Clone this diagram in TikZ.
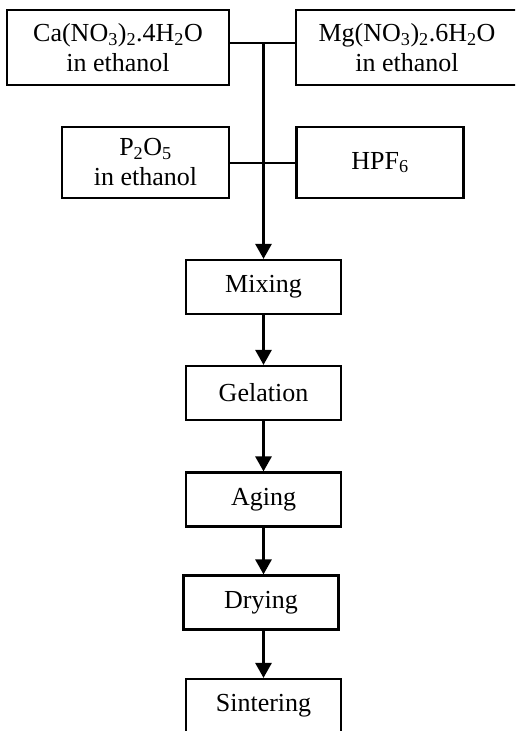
\documentclass[tikz,border=0pt]{standalone}
\usepackage{fontspec}
\setmainfont{Liberation Serif}
\usepackage{tikz}
\usetikzlibrary{arrows.meta, positioning}

\begin{document}
\begin{tikzpicture}[
    x=1pt, y=-1pt,
    line width=2.6pt,
    every node/.style={font=\fontsize{26}{30}\selectfont},
    source/.style={rectangle, draw, line width=2.2pt, align=center, inner sep=0pt, minimum height=75pt},
    reagent/.style={rectangle, draw, line width=2.2pt, align=center, inner sep=0pt, minimum width=167pt, minimum height=71pt},
    stepbox/.style={rectangle, draw, line width=2.2pt, inner sep=0pt, minimum width=155pt, minimum height=54pt},
    flow/.style={-{Triangle[length=15pt, width=16pt]}, line width=2.8pt}
]
    \useasboundingbox (0,0) rectangle (515,731);
    \clip (0,0) rectangle (515,731);

    % Precursor solutions (top row)
    \node[source, minimum width=222pt] (ca) at (118,47.5) {Ca(NO\textsubscript{3})\textsubscript{2}.4H\textsubscript{2}O\\in ethanol};
    \node[source, minimum width=222pt] (mg) at (407,47.5) {Mg(NO\textsubscript{3})\textsubscript{2}.6H\textsubscript{2}O\\in ethanol};

    % Phosphorus and fluorine sources
    \node[reagent] (p2o5) at (145.5,162.5) {P\textsubscript{2}O\textsubscript{5}\\in ethanol};
    \node[reagent] (hpf) at (380,162.5) {HPF\textsubscript{6}};

    % Process steps
    \node[stepbox] (mix) at (263.5,287) {Mixing};
    \node[stepbox] (gel) at (263.5,393) {Gelation};
    \node[stepbox] (age) at (263.5,499.5) {Aging};
    \node[stepbox] (dry) at (261,602.5) {Drying};
    \node[stepbox] (sin) at (263.5,706) {Sintering};

    % Junctions
    \coordinate (top) at (263.5,43);
    \coordinate (mid) at (263.5,163);
    \draw (ca.east |- top) -- (mg.west |- top);
    \draw (p2o5.east |- mid) -- (hpf.west |- mid);

    % Flow arrows
    \draw[flow] (top) -- (mix.north);
    \draw[flow] (mix) -- (gel);
    \draw[flow] (gel) -- (age);
    \draw[flow] (age.south) -- (age.south |- dry.north);
    \draw[flow] (dry.south -| age.south) -- (sin.north);
\end{tikzpicture}
\end{document}
